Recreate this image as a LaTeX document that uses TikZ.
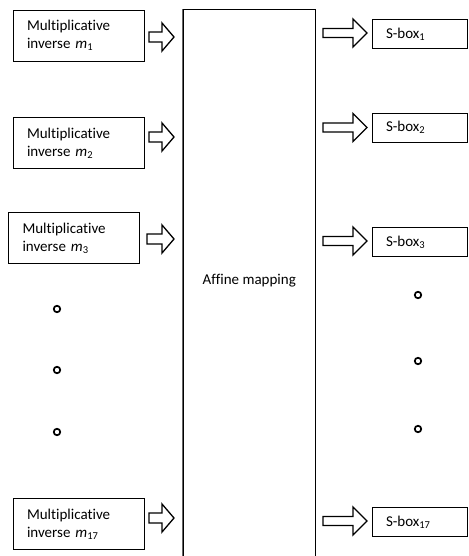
\documentclass[tikz,border=0pt]{standalone}
\usepackage{fontspec}
\setmainfont{Carlito}[Ligatures=NoCommon]
\newcommand\barrow[6]{%
  \draw[blockarr] (#1,#3-#4) -- (#2-#6,#3-#4) -- (#2-#6,#3-#5) -- (#2,#3) -- (#2-#6,#3+#5) -- (#2-#6,#3+#4) -- (#1,#3+#4) -- cycle;}
\begin{document}
\begin{tikzpicture}[x=1pt,y=-1pt,
  font=\fontsize{15}{18}\selectfont,
  mibox/.style={draw, line width=0.8pt, minimum height=51pt, text width=103pt, inner xsep=14pt, align=left},
  sbox/.style={draw, line width=0.8pt, minimum height=29pt, text width=67pt, inner xsep=14pt, align=left},
  blockarr/.style={line width=1.3pt, line join=miter},
  dot/.style={circle, draw, line width=1.7pt, minimum size=6.5pt, inner sep=0pt}]
\useasboundingbox (0,0) rectangle (468,556);
\clip (0,0) rectangle (468,556);
% affine mapping block
\node[draw, line width=0.8pt, minimum width=132.7pt, minimum height=570pt, inner sep=0pt] (aff) at (249.3,294.5) {};
\draw[gray!80!black, line width=0.9pt] (aff.north west) -- (aff.south west);
\node (afftext) at (249.3,281) {Affine mapping};
% left boxes
\node[mibox] (m1) at (78.5,35.5) {Multiplicative\\inverse \textit{m}\textsubscript{1}};
\node[mibox] (m2) at (78.5,143) {Multiplicative\\inverse \textit{m}\textsubscript{2}};
\node[mibox] (m3) at (74,238) {Multiplicative\\inverse \textit{m}\textsubscript{3}};
\node[mibox] (m17) at (78.5,524) {Multiplicative\\inverse \textit{m}\textsubscript{17}};
% right boxes
\node[sbox] (s1) at (419.5,34) {S-box\textsubscript{1}};
\node[sbox] (s2) at (419.5,127.5) {S-box\textsubscript{2}};
\node[sbox] (s3) at (419.5,242) {S-box\textsubscript{3}};
\node[sbox] (s17) at (419.5,522) {S-box\textsubscript{17}};
% left block arrows
\barrow{149}{174}{37}{5}{14}{12}
\barrow{149}{174}{137}{5}{14}{12}
\barrow{147}{174}{239}{5}{14}{12}
\barrow{149}{174}{518}{5}{14}{12}
% right block arrows
\barrow{323}{367}{33}{4.5}{14}{14}
\barrow{323}{367}{127.5}{4.5}{14}{14}
\barrow{323}{367}{241}{4.5}{14}{14}
\barrow{323}{367}{521}{4.5}{14}{14}
% dots
\node[dot] (dl1) at (57,309) {};
\node[dot] (dl2) at (57,370) {};
\node[dot] (dl3) at (57,432) {};
\node[dot] (dr1) at (418,295) {};
\node[dot] (dr2) at (418,361) {};
\node[dot] (dr3) at (418,429) {};
\end{tikzpicture}
\end{document}
